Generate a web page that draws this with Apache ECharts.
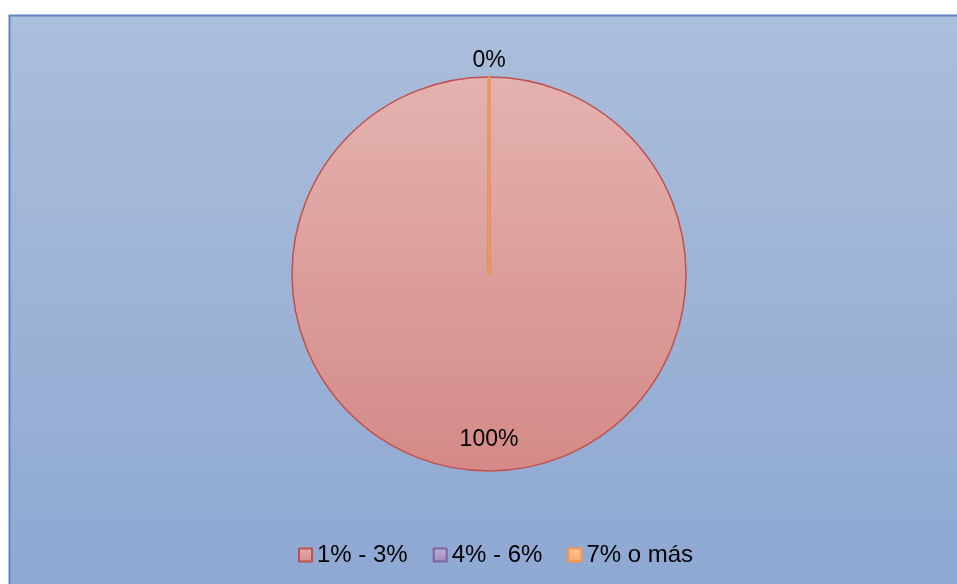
<!DOCTYPE html>
<html>
<head>
<meta charset="utf-8">
<script src="https://cdn.jsdelivr.net/npm/echarts@6/dist/echarts.min.js"></script>
<style>
  html, body { margin: 0; padding: 0; background: #ffffff; }
  #chart { width: 957px; height: 584px; }
</style>
</head>
<body>
<div id="chart"></div>
<script>
// Share of responses by range
const categories = ['1% - 3%', '4% - 6%', '7% o más'];
const values = [100, 0, 0];

// Fill gradients (top, bottom) and outline colour for each slice
const fillTop = ['#e4b2af', '#c2b3d4', '#fbc9a3'];
const fillBottom = ['#d48a87', '#9f88bf', '#f7a468'];
const edgeColors = ['#c0504d', '#8064a2', '#f79646'];

const CENTER = [489, 274];
const RADIUS = 197;

const chart = echarts.init(document.getElementById('chart'), null, { renderer: 'canvas' });

function grad(top, bottom) {
  return new echarts.graphic.LinearGradient(0, 0, 0, 1, [
    { offset: 0, color: top },
    { offset: 1, color: bottom }
  ]);
}

const sliceData = categories.map((name, i) => ({
  name,
  value: values[i],
  itemStyle: {
    color: grad(fillTop[i], fillBottom[i]),
    borderColor: edgeColors[i],
    borderWidth: i === 0 ? 1.5 : 2.5
  }
}));

const hiddenData = categories.map((name, i) => ({
  name,
  value: values[i],
  itemStyle: { color: 'rgba(0,0,0,0)', borderWidth: 0 }
}));

const pct = p => Math.round(p.percent) + '%';
const labelText = { fontFamily: 'Liberation Sans, Arial, sans-serif', fontSize: 23, color: '#000000' };

chart.setOption({
  animation: false,
  graphic: [{
    type: 'rect',
    z: -10,
    shape: { x: 9.5, y: 15.5, width: 960, height: 580 },
    style: {
      fill: new echarts.graphic.LinearGradient(0, 0, 0, 1, [
        { offset: 0, color: '#abbedb' },
        { offset: 1, color: '#8ea8d2' }
      ]),
      stroke: '#5b86bf',
      lineWidth: 2
    },
    silent: true
  }],
  legend: {
    bottom: 12,
    left: 293,
    itemWidth: 13,
    itemHeight: 13,
    itemGap: 25,
    icon: 'rect',
    textStyle: { fontFamily: 'Liberation Sans, Arial, sans-serif', fontSize: 24, color: '#000000' },
    data: categories.map((name, i) => ({
      name,
      itemStyle: { color: grad(fillTop[i], fillBottom[i]), borderColor: edgeColors[i], borderWidth: 2 }
    }))
  },
  series: [
    {
      name: 'main',
      type: 'pie',
      center: CENTER,
      radius: [0, RADIUS],
      startAngle: 90,
      clockwise: true,
      avoidLabelOverlap: false,
      silent: true,
      label: { show: false },
      labelLine: { show: false },
      data: sliceData
    },
    {
      // labels for non-empty slices, placed well inside the rim
      name: 'innerLabels',
      type: 'pie',
      center: CENTER,
      radius: [130, 196],
      startAngle: 90,
      clockwise: true,
      avoidLabelOverlap: false,
      silent: true,
      label: {
        show: true,
        position: 'inside',
        formatter: p => (p.value > 0 ? pct(p) : ''),
        ...labelText
      },
      labelLine: { show: false },
      data: hiddenData
    },
    {
      // labels for empty slices, just outside the rim
      name: 'outerLabels',
      type: 'pie',
      center: CENTER,
      radius: [198, 222],
      startAngle: 90,
      clockwise: true,
      avoidLabelOverlap: false,
      silent: true,
      label: {
        show: true,
        position: 'inside',
        formatter: p => (p.value > 0 ? '' : pct(p)),
        ...labelText
      },
      labelLine: { show: false },
      data: hiddenData
    }
  ]
});
</script>
</body>
</html>
